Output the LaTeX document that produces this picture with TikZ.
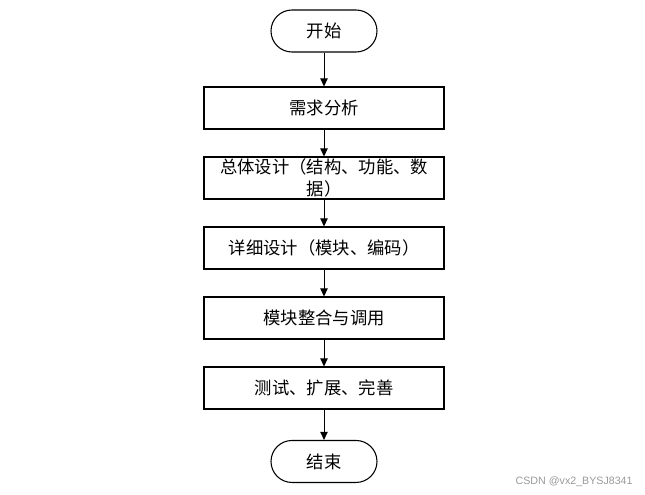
\documentclass[tikz,border=0pt]{standalone}
\usepackage{fontspec}
\setmainfont{Noto Sans CJK SC}
\newfontfamily\wmfont{Liberation Sans}
\usepackage{tikz}
\usetikzlibrary{shapes.geometric, arrows.meta, positioning}

\begin{document}
\begin{tikzpicture}[
    node distance=52.5pt, on grid,
    terminal/.style={draw=black, rectangle, rounded corners=15.75pt, line width=0.8pt,
                     minimum width=79.5pt, minimum height=31.5pt, align=center,
                     font=\fontsize{13}{16}\selectfont},
    process/.style={draw=black, rectangle, line width=0.8pt,
                    minimum width=180pt, minimum height=31.5pt, align=center,
                    inner xsep=1pt, inner ysep=0pt, font=\fontsize{13}{16}\selectfont},
    arrow/.style={-{Triangle[length=6pt, width=5.5pt]}, line width=0.7pt, black}
]
    \useasboundingbox (0,0) rectangle (483.75pt,-371.25pt);

    % Nodes
    \node[terminal] (start) at (243pt,-23.25pt) {开始};
    \node[process, below=57.75pt of start] (req) {需求分析};
    \node[process, below=of req] (overall) {总体设计（结构、功能、数\\据）};
    \node[process, below=of overall] (detail) {详细设计（模块、编码）};
    \node[process, below=of detail] (merge) {模块整合与调用};
    \node[process, below=of merge] (test) {测试、扩展、完善};
    \node[terminal, below=55.1pt of test] (end) {结束};

    \node[font=\wmfont\fontsize{8}{9}\selectfont, text=black!40, anchor=east]
        (watermark) at (478pt,-361.5pt) {CSDN @vx2\_BYSJ8341};

    % Arrows
    \draw[arrow] (start) -- (req);
    \draw[arrow] (req) -- (overall);
    \draw[arrow] (overall) -- (detail);
    \draw[arrow] (detail) -- (merge);
    \draw[arrow] (merge) -- (test);
    \draw[arrow] (test) -- (end);
\end{tikzpicture}
\end{document}
